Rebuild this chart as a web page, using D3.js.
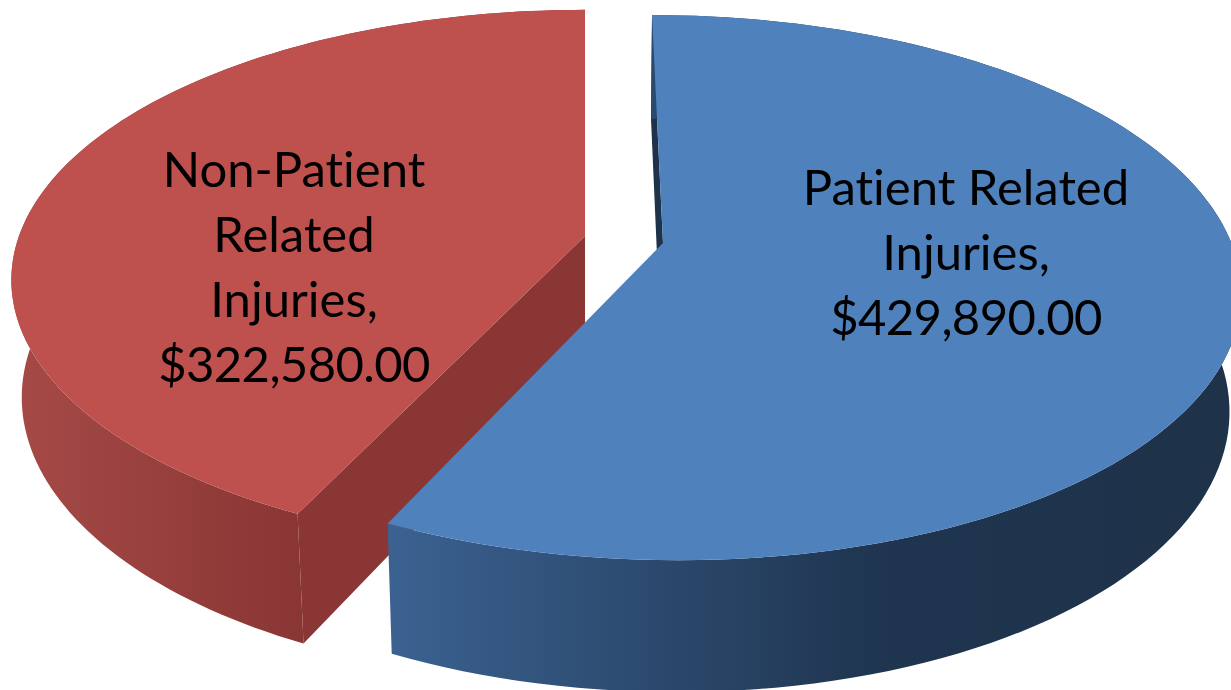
<!DOCTYPE html>
<html>
<head>
<meta charset="utf-8">
<script src="https://cdn.jsdelivr.net/npm/d3@7"></script>
<style>
  html, body { margin: 0; padding: 0; background: #fff; overflow: hidden; }
  text { font-family: Lato, "Open Sans", sans-serif; fill: #000; font-variant-ligatures: none; }
</style>
</head>
<body>
<svg id="chart" width="1231" height="690"></svg>
<script>
var categoryLines = [['Patient Related', 'Injuries,'], ['Non-Patient', 'Related', 'Injuries,']];
var values = [429890, 322580];
var valueLabels = ['$429,890.00', '$322,580.00'];

var svg = d3.select('#chart');
var defs = svg.append('defs');

// perspective camera, z is the drop from the top face
var cx = 585, cy = 236, A = 566, B = 263, p = 0.163, q = 0.018, H = 118;
function project(u, v, z) {
  var w = 1 + p * v + q * z;
  return [cx + A * u / w, cy + (-B * v + H * z) / w];
}

var pie = d3.pie().sort(null).value(function (d) { return d; });
var slices = pie(values);
// only the blue slice is pulled out of the pie
var offsets = [[0.1372, -0.0266], [0, 0]];
var line = d3.line();

function rim(i, a0, a1, z) {
  var o = offsets[i];
  return d3.range(0, 121).map(function (k) {
    var a = a0 + (a1 - a0) * k / 120;
    return project(o[0] + Math.sin(a), o[1] + Math.cos(a), z);
  });
}

function gradient(id, x1, x2, stops) {
  var g = defs.append('linearGradient').attr('id', id)
    .attr('gradientUnits', 'userSpaceOnUse')
    .attr('x1', x1).attr('x2', x2).attr('y1', 0).attr('y2', 0);
  stops.forEach(function (s) {
    g.append('stop').attr('offset', s[0]).attr('stop-color', s[1]);
  });
}
gradient('blueWall', 387, 1231, [[0, '#3b6291'], [0.58, '#1f3550'], [1, '#1e3249']]);
gradient('redWall', 10, 300, [[0, '#a64a47'], [1, '#893634']]);

var topColors = ['#4f81bd', '#be504d'];
var innerColors = ['#1e3249', '#893634'];
var walls = ['url(#blueWall)', 'url(#redWall)'];

// back slice first so the blue one overlaps it
[1, 0].forEach(function (i) {
  var s = slices[i];
  var o = offsets[i];
  var apexTop = project(o[0], o[1], 0);
  var apexLow = project(o[0], o[1], 1);

  // cut face
  var a = rim(i, s.startAngle, s.startAngle, 0)[0];
  var b = rim(i, s.startAngle, s.startAngle, 1)[0];
  svg.append('path')
    .attr('d', line([apexTop, a, b, apexLow]) + 'Z')
    .attr('fill', innerColors[i]);

  // outer wall, one small quad per step so the silhouette tangent is filled
  var topEdge = rim(i, s.startAngle, s.endAngle, 0);
  var lowEdge = rim(i, s.startAngle, s.endAngle, 1);
  var quads = d3.range(0, topEdge.length - 1).map(function (k) {
    return line([topEdge[k], topEdge[k + 1], lowEdge[k + 1], lowEdge[k]]) + 'Z';
  });
  svg.append('path')
    .attr('d', quads.join(''))
    .attr('fill-rule', 'nonzero')
    .attr('fill', walls[i]);

  // top face
  svg.append('path')
    .attr('d', line([apexTop].concat(topEdge)) + 'Z')
    .attr('fill', topColors[i]);
});

// labels
var labelPos = [[966, 205], [294, 187]];
categoryLines.forEach(function (lines, i) {
  var t = svg.append('text')
    .attr('x', labelPos[i][0]).attr('y', labelPos[i][1])
    .attr('text-anchor', 'middle')
    .attr('font-size', 49);
  lines.concat(valueLabels[i]).forEach(function (l, k) {
    t.append('tspan')
      .attr('x', labelPos[i][0])
      .attr('dy', k === 0 ? 0 : 65)
      .attr('letter-spacing', k === lines.length ? -0.63 : 0)
      .text(l);
  });
});
</script>
</body>
</html>
